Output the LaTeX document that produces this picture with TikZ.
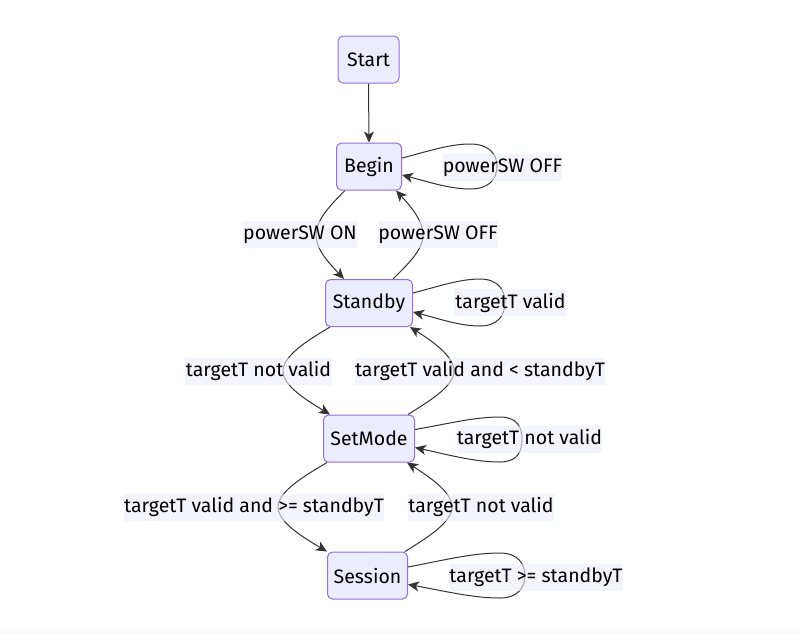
\documentclass[tikz,border=0pt]{standalone}
\usepackage{fontspec}
\setmainfont{Fira Sans}
\usetikzlibrary{arrows.meta}
\definecolor{nodefill}{RGB}{236,236,255}
\definecolor{nodeborder}{RGB}{147,112,219}
\definecolor{labelbg}{RGB}{237,237,250}
\definecolor{edgecol}{RGB}{51,51,51}
\definecolor{stripcol}{RGB}{249,249,249}
\begin{document}
\begin{tikzpicture}[x=1pt,y=-1pt,
  state/.style={draw=nodeborder, fill=nodefill, rounded corners=5pt, line width=1pt,
    inner sep=0pt, font=\fontsize{19.5}{23}\selectfont},
  lbl/.style={fill=labelbg, fill opacity=0.6, text opacity=1, inner sep=0pt,
    minimum height=27pt, font=\fontsize{19.5}{23}\selectfont},
  edge/.style={draw=edgecol, line width=1pt, -{Stealth[length=11pt,width=10pt,inset=3pt]}}]
\useasboundingbox (0,0) rectangle (800,633);
\fill[white] (0,0) rectangle (800,633);
\fill[stripcol] (0,629) rectangle (800,633);

% states
\node[state, minimum width=61pt, minimum height=47pt] (start) at (368.5,59.5) {Start};
\node[state, minimum width=65pt, minimum height=47pt] (begin) at (369,166.5) {Begin};
\node[state, minimum width=87pt, minimum height=47pt] (standby) at (369,303) {Standby};
\node[state, minimum width=91pt, minimum height=47pt] (setmode) at (369,438.5) {SetMode};
\node[state, minimum width=80pt, minimum height=47pt] (session) at (367.5,575.5) {Session};

% edges
\draw[edge] (start.south) -- (begin.north);

% Begin loop
\draw[edge] ([yshift=8.5pt]begin.east) .. controls (429,151) and (450,144) .. (470,144)
  .. controls (489,144) and (497,154) .. (497,166.5)
  .. controls (497,179) and (489,189) .. (470,189)
  .. controls (450,189) and (429,182) .. ([yshift=-8.5pt]begin.east);

% Begin -> Standby
\draw[edge] ([xshift=-24pt]begin.south) .. controls (330.5,205) and (316,220) .. (316,235)
  .. controls (316,250) and (330,264) .. ([xshift=-25pt]standby.north);
% Standby -> Begin
\draw[edge] ([xshift=24pt]standby.north) .. controls (408,264) and (423,250) .. (423,235)
  .. controls (423,220) and (409.5,205) .. ([xshift=27pt]begin.south);

% Standby loop
\draw[edge] ([yshift=10pt]standby.east) .. controls (440,286) and (460,279) .. (480,279)
  .. controls (498,279) and (505,290) .. (505,302.5)
  .. controls (505,315) and (498,326) .. (480,326)
  .. controls (460,326) and (440,319) .. ([yshift=-9pt]standby.east);

% Standby -> SetMode
\draw[edge] ([xshift=-39pt]standby.south) .. controls (306.5,341) and (283,356) .. (283,371)
  .. controls (283,386) and (306.5,400) .. ([xshift=-39pt]setmode.north);
% SetMode -> Standby
\draw[edge] ([xshift=39pt]setmode.north) .. controls (431,400) and (454,386) .. (454,371)
  .. controls (454,356) and (432,341) .. ([xshift=41pt]standby.south);

% SetMode loop
\draw[edge] ([yshift=9pt]setmode.east) .. controls (449,423.5) and (475,417) .. (500,417)
  .. controls (517,417) and (522,427) .. (522,439.5)
  .. controls (522,452) and (517,462) .. (500,462)
  .. controls (475,462) and (449,455) .. ([yshift=-9pt]setmode.east);

% SetMode -> Session
\draw[edge] ([xshift=-42pt]setmode.south) .. controls (302.5,477) and (278,492) .. (278,507)
  .. controls (278,522) and (302.5,537) .. ([xshift=-40.5pt]session.north);
% Session -> SetMode
\draw[edge] ([xshift=37.5pt]session.north) .. controls (428.5,537) and (452,522) .. (452,507)
  .. controls (452,492) and (429.5,477) .. ([xshift=38pt]setmode.south);

% Session loop
\draw[edge] ([yshift=8.5pt]session.east) .. controls (445,560) and (472,553) .. (500,553)
  .. controls (518,553) and (525,564) .. (525,575.5)
  .. controls (525,587) and (518,598) .. (500,598)
  .. controls (472,598) and (445,591) .. ([yshift=-9pt]session.east);

% labels
\node[lbl, minimum width=119pt] (l1) at (502.5,167.5) {powerSW OFF};
\node[lbl, minimum width=110pt] (l2) at (300,234.5) {powerSW ON};
\node[lbl, minimum width=118pt] (l3) at (438,234.5) {powerSW OFF};
\node[lbl, minimum width=113pt] (l4) at (510.5,302.5) {targetT valid};
\node[lbl, minimum width=147pt] (l5) at (258.5,371) {targetT not valid};
\node[lbl, minimum width=250pt] (l6) at (480,371) {targetT valid and < standbyT};
\node[lbl, minimum width=145pt] (l7) at (529.5,439) {targetT not valid};
\node[lbl, minimum width=257pt] (l8) at (254,507) {targetT valid and >= standbyT};
\node[lbl, minimum width=146pt] (l9) at (481,507) {targetT not valid};
\node[lbl, minimum width=174pt] (l10) at (536,577) {targetT >= standbyT};
\end{tikzpicture}
\end{document}
